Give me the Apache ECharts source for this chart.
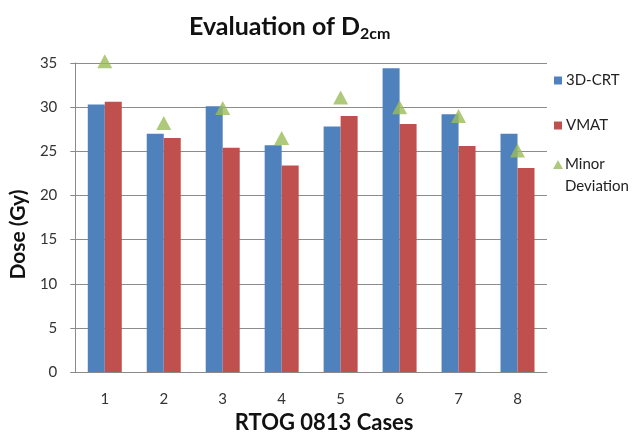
<!DOCTYPE html>
<html><head><meta charset="utf-8">
<script src="https://cdn.jsdelivr.net/npm/echarts@6/dist/echarts.min.js"></script>
<style>html,body{margin:0;padding:0;background:#fff}#c{width:643px;height:439px}</style>
</head><body><div id="c"></div>
<script>
const categories = ['1','2','3','4','5','6','7','8'];
const crt3d = [30.3, 27.0, 30.1, 25.7, 27.8, 34.4, 29.2, 27.0];
const vmat = [30.6, 26.5, 25.4, 23.4, 29.0, 28.1, 25.6, 23.1];
const minorDeviation = [35.2, 28.2, 29.9, 26.5, 31.1, 30.0, 29.0, 25.1];
const yTicks = {min: 0, max: 35, interval: 5};

const FONT = 'Lato, "Open Sans", sans-serif';
const chart = echarts.init(document.getElementById('c'));
chart.setOption({
  animation: false,
  backgroundColor: '#fff',
  title: {
    text: '{a|Evaluation of D}{b|2cm}',
    left: 184, top: 7,
    textStyle: {
      rich: {
        a: {fontFamily: FONT, fontWeight: 'bold', fontSize: 25, color: '#111', lineHeight: 30},
        b: {fontFamily: FONT, fontWeight: 'bold', fontSize: 16, color: '#111', padding: [13, 0, 0, 0], lineHeight: 30}
      }
    }
  },
  legend: [{
    orient: 'vertical', left: 549, top: 68,
    data: ['3D-CRT', 'VMAT'],
    itemWidth: 8, itemHeight: 8, itemGap: 30, icon: 'rect',
    textStyle: {fontFamily: FONT, fontSize: 15, color: '#222', padding: [0,0,0,-1]}
  }, {
    orient: 'vertical', left: 548, top: 148,
    data: [{name: 'Minor Deviation', icon: 'path://M5,0L10,9L0,9Z M5,30L5.01,30'}],
    itemWidth: 10, itemHeight: 30,
    formatter: () => 'Minor\nDeviation',
    textStyle: {fontFamily: FONT, fontSize: 15, color: '#222', lineHeight: 22, padding: [0,0,0,-3]}
  }],
  grid: {left: 73, right: 96, top: 63, bottom: 66, containLabel: false},
  xAxis: {
    type: 'category', data: categories,
    name: 'RTOG 0813 Cases', nameLocation: 'middle', nameGap: 39,
    nameTextStyle: {fontFamily: FONT, fontWeight: 'bold', fontSize: 22, color: '#111', padding: [0,0,0,26]},
    axisLine: {lineStyle: {color: '#8a8a8a', width: 1}},
    axisTick: {show: false},
    axisLabel: {fontFamily: FONT, fontSize: 15, color: '#333', margin: 20}
  },
  yAxis: {
    type: 'value', min: yTicks.min, max: yTicks.max, interval: yTicks.interval,
    name: 'Dose (Gy)', nameLocation: 'middle', nameGap: 32,
    nameTextStyle: {fontFamily: FONT, fontWeight: 'bold', fontSize: 21, color: '#111', padding: [0,0,0,-34]},
    axisLine: {show: true, lineStyle: {color: '#8a8a8a', width: 1}},
    axisTick: {show: true, inside: false, length: 5, lineStyle: {color: '#8a8a8a'}},
    splitLine: {lineStyle: {color: '#8c8c8c', width: 1}},
    axisLabel: {fontFamily: FONT, fontSize: 15, color: '#333', margin: 18}
  },
  series: [{
    name: '3D-CRT', type: 'bar', data: crt3d, barWidth: 17, barGap: '0%',
    itemStyle: {color: '#4F81BD'}
  }, {
    name: 'VMAT', type: 'bar', data: vmat, barWidth: 17, barGap: '0%',
    itemStyle: {color: '#C0504D'}
  }, {
    name: 'Minor Deviation', type: 'scatter', data: minorDeviation,
    symbol: 'triangle', symbolSize: [15, 14], clip: false,
    itemStyle: {color: '#9BBB59'}, z: 5
  }]
});
</script></body></html>
